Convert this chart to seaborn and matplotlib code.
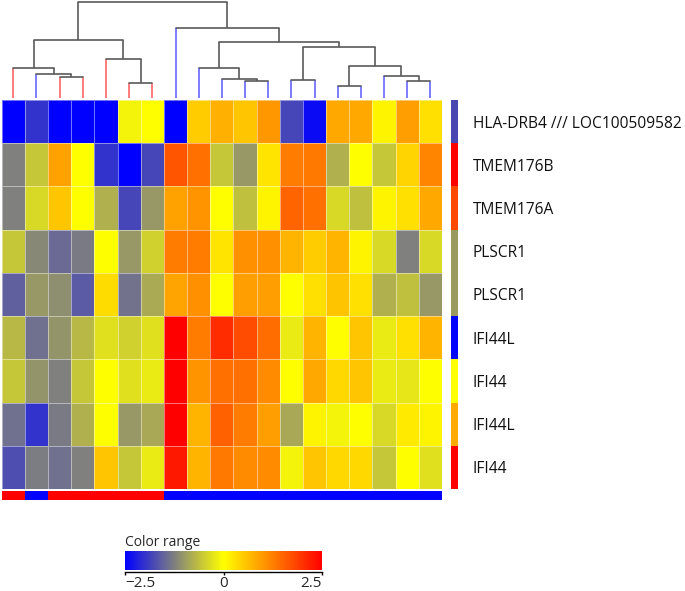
import numpy as np
import pandas as pd
import matplotlib
matplotlib.use("Agg")
import matplotlib.pyplot as plt
from matplotlib.colors import LinearSegmentedColormap, ListedColormap
import seaborn as sns

sns.set_theme(style="white")
plt.rcParams["font.family"] = ["Open Sans", "DejaVu Sans"]

# ── DATA
genes = ["HLA-DRB4 /// LOC100509582", "TMEM176B", "TMEM176A", "PLSCR1", "PLSCR1",
         "IFI44L", "IFI44", "IFI44L", "IFI44"]
z = [
    [-2.5, -2.0, -2.5, -2.5, -2.5, -0.1, 0.0, -2.5, 0.5, 0.78, 0.55, 1.0, -1.8, -2.4, 0.85, 0.85, 0.1, 0.95, 0.3],
    [-1.25, -0.55, 0.9, 0.0, -2.0, -2.5, -1.8, 1.67, 1.4, -0.55, -1.0, 0.27, 1.28, 1.32, -0.77, 0.0, -0.55, 0.42, 1.2],
    [-1.25, -0.38, 0.55, 0.0, -0.77, -1.8, -1.0, 0.9, 1.05, 0.0, -0.62, 0.1, 1.52, 1.4, -0.38, -0.62, 0.1, 0.3, 0.85],
    [-0.55, -1.17, -1.46, -1.3, 0.0, -1.0, -0.46, 1.28, 1.28, 0.27, 1.09, 1.09, 0.74, 0.5, 0.74, 0.1, -0.38, -1.25, -0.38],
    [-1.56, -1.0, -1.1, -1.62, 0.34, -1.38, -0.83, 0.88, 1.09, 0.0, 0.95, 0.95, 0.0, 0.3, 0.58, 0.3, -0.77, -0.62, -1.0],
    [-0.7, -1.4, -1.04, -0.7, -0.3, -0.46, -0.3, 2.5, 1.28, 2.07, 1.75, 1.44, -0.2, 0.74, 0.0, 0.55, -0.2, 0.3, 0.74],
    [-0.55, -1.04, -1.25, -0.55, 0.0, -0.3, -0.2, 2.5, 1.05, 1.4, 1.4, 1.12, 0.0, 0.85, 0.38, 0.55, -0.2, -0.25, 0.0],
    [-1.4, -2.0, -1.3, -0.77, 0.0, -1.0, -0.85, 2.5, 0.74, 1.56, 1.28, 0.95, -0.85, 0.1, -0.1, 0.0, -0.38, 0.2, 0.1],
    [-1.72, -1.28, -1.4, -1.25, 0.55, -0.55, -0.2, 2.26, 0.74, 1.32, 1.12, 1.12, -0.1, 0.55, 0.38, 0.38, -0.55, 0.0, -0.3],
]
gene_colors = ["#4848b0", "#ff0000", "#ff4800", "#9a9a60", "#9a9a60",
               "#0000ff", "#ffff00", "#ffaa00", "#ff0000"]
sample_groups = ["r", "b", "r", "r", "r", "r", "r",
                 "b", "b", "b", "b", "b", "b", "b", "b", "b", "b", "b", "b"]
group_colors = {"r": "#ff0000", "b": "#0000ff"}
# dendrogram merges: (left node, right node, height); leaves 0..18, new nodes from 19
merges = [
    (2, 3, 63), (1, 19, 73), (0, 20, 92), (5, 6, 47), (4, 22, 118), (21, 23, 175),
    (10, 11, 53), (9, 25, 57), (8, 26, 91), (12, 13, 54), (14, 15, 38), (17, 18, 53),
    (16, 30, 66), (29, 31, 98), (28, 32, 154), (27, 33, 170), (7, 34, 210), (24, 35, 290),
]
cbar_ticks = [-2.5, 0, 2.5]

n_rows, n_cols = len(genes), len(sample_groups)
df = pd.DataFrame(z, index=range(n_rows))

cmap = LinearSegmentedColormap.from_list(
    "br", [(0, "#0000ff"), (0.25, "#808080"), (0.5, "#ffff00"), (1, "#ff0000")])

W, H = 685, 591
fig = plt.figure(figsize=(W / 100, H / 100), dpi=100)

def px_ax(x0, y0, x1, y1):
    return fig.add_axes([x0 / W, (H - y1) / H, (x1 - x0) / W, (y1 - y0) / H])

ax = px_ax(1.7, 100, 442, 489)
cax = px_ax(125, 550.5, 322, 570)
dax = px_ax(1.7, 1.5, 442, 98.3)
sax = px_ax(1.7, 491, 442, 500)
rax = px_ax(451, 100, 458, 489)

# main heatmap
sns.heatmap(df, ax=ax, cmap=cmap, vmin=-2.5, vmax=2.5, cbar_ax=cax,
            cbar_kws={"orientation": "horizontal", "ticks": cbar_ticks},
            linewidths=0.4, linecolor=(1, 1, 1, 0.45),
            xticklabels=False, yticklabels=False)

# sample group strip
codes = np.array([[0 if g == "r" else 1 for g in sample_groups]])
sns.heatmap(codes, ax=sax, cmap=ListedColormap([group_colors["r"], group_colors["b"]]),
            vmin=0, vmax=1, cbar=False, xticklabels=False, yticklabels=False,
            linewidths=0)

# gene color strip + labels
sns.heatmap(np.arange(n_rows).reshape(-1, 1), ax=rax, cmap=ListedColormap(gene_colors),
            vmin=0, vmax=n_rows - 1, cbar=False, xticklabels=False, yticklabels=genes)
rax.tick_params(axis="y", left=False, right=False, labelleft=False, labelright=True,
                length=0, pad=10.5, labelsize=11.2, labelrotation=0)
for t in rax.get_yticklabels():
    t.set_color("#111111")

# dendrogram
pos = {i: i + 0.5 for i in range(n_cols)}
hgt = {i: 0 for i in range(n_cols)}
for k, (a, b, h) in enumerate(merges):
    for node in (a, b):
        if node < n_cols:
            c, al = group_colors[sample_groups[node]], 0.6
        else:
            c, al = "#5a5a5a", 1
        dax.plot([pos[node], pos[node]], [hgt[node], h], color=c, alpha=al, lw=1.2,
                 clip_on=False, solid_capstyle="butt")
    dax.plot([pos[a], pos[b]], [h, h], color="#5a5a5a", lw=1.2, clip_on=False)
    pos[n_cols + k] = (pos[a] + pos[b]) / 2
    hgt[n_cols + k] = h
dax.set_xlim(0, n_cols)
dax.set_ylim(0, 290)
dax.axis("off")

# color bar styling
cbar = ax.collections[0].colorbar
cbar.outline.set_visible(False)
cax.spines["bottom"].set_visible(True)
cax.spines["bottom"].set_color("black")
cax.spines["bottom"].set_linewidth(1)
cax.spines["bottom"].set_position(("outward", 1.3))
cax.set_xticks(cbar_ticks, labels=[f"{t:g}".replace("-", "\u2212") for t in cbar_ticks])
cax.tick_params(axis="x", bottom=True, direction="out", length=2.5, width=1,
                color="black", labelsize=11, pad=0.5)
tl = cax.get_xticklabels()
tl[0].set_ha("left")
tl[-1].set_ha("right")
fig.text(125 / W, (H - 546.5) / H, "Color range", fontsize=10, va="baseline", ha="left")

plt.savefig("out.png", dpi=100)
